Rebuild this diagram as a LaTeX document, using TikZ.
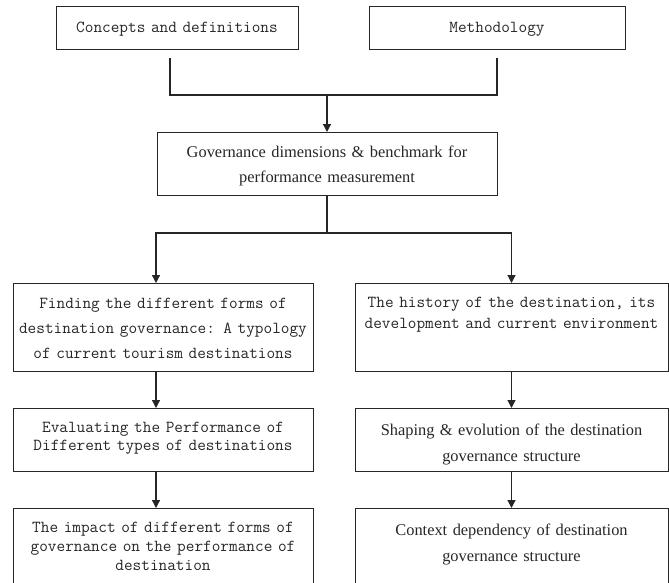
\documentclass[tikz,border=0pt]{standalone}
\usepackage{fontspec}
\setmainfont{Liberation Serif}
\usetikzlibrary{arrows.meta,calc}
\definecolor{fig-ink}{HTML}{262626}

\begin{document}
\begin{tikzpicture}[
    x=1pt, y=-1pt,
    >={Triangle[length=8pt,width=8pt]},
    box/.style={draw=fig-ink, line width=0.9pt, inner sep=0pt, align=center, anchor=north, text=fig-ink},
    mono/.style={font=\ttfamily\fontsize{16.8}{#1}\selectfont},
    serif/.style={font=\fontsize{16.4}{#1}\selectfont},
    link/.style={draw=fig-ink, line width=1.2pt},
    arr/.style={link, ->}
]
\useasboundingbox (0,0) rectangle (669,582);
\clip (0,0) rectangle (669,582);

% top row
\node[box, mono=25, text width=242pt, text height=26pt, text depth=17pt] (concepts) at (177,6) {Concepts and definitions};
\node[box, mono=25, text width=256pt, text height=26pt, text depth=17pt] (method) at (497,6) {Methodology};

% benchmark
\node[box, serif=25, text width=340pt, text height=25pt, text depth=38pt] (bench) at (327,132) {Governance dimensions \& benchmark for\\performance measurement};

% left column
\node[box, mono=25, text width=300pt, text height=25pt, text depth=63pt] (typology) at (163,283) {Finding the different forms of\\destination governance: A typology\\of current tourism destinations};
\node[box, mono=18.5, text width=300pt, text height=24pt, text depth=39pt] (evaluate) at (163,408) {Evaluating the Performance of\\Different types of destinations};
\node[box, mono=19, text width=300pt, text height=24pt, text depth=90pt] (impact) at (163,508) {The impact of different forms of\\governance on the performance of\\destination};

% right column
\node[box, mono=21, text width=313pt, text height=24pt, text depth=64pt] (history) at (511.5,283) {The history of the destination, its\\development and current environment};
\node[box, serif=26, text width=313pt, text height=27pt, text depth=36pt] (shaping) at (511.5,408) {Shaping \& evolution of the destination\\governance structure};
\node[box, serif=26, text width=313pt, text height=27pt, text depth=90pt] (context) at (511.5,508) {Context dependency of destination\\governance structure};

% connectors
\coordinate (joinA) at (327,95);
\coordinate (joinB) at (327,233);
\draw[link] ([xshift=-7pt,yshift=-8pt]concepts.south) |- (joinA) -| ([yshift=-8pt]method.south);
\draw[arr] (joinA) -- (bench.north);
\draw[link] (bench.south) -- (joinB);
\draw[arr] (joinB) -| ([xshift=-7pt]typology.north);
\draw[arr] (joinB) -| (history.north);

\draw[arr] ([xshift=-7pt]typology.south) -- ([xshift=-7pt]evaluate.north);
\draw[arr] ([xshift=-7pt]evaluate.south) -- ([xshift=-7pt]impact.north);
\draw[arr] (history.south) -- (shaping.north);
\draw[arr] (shaping.south) -- (context.north);
\end{tikzpicture}
\end{document}
